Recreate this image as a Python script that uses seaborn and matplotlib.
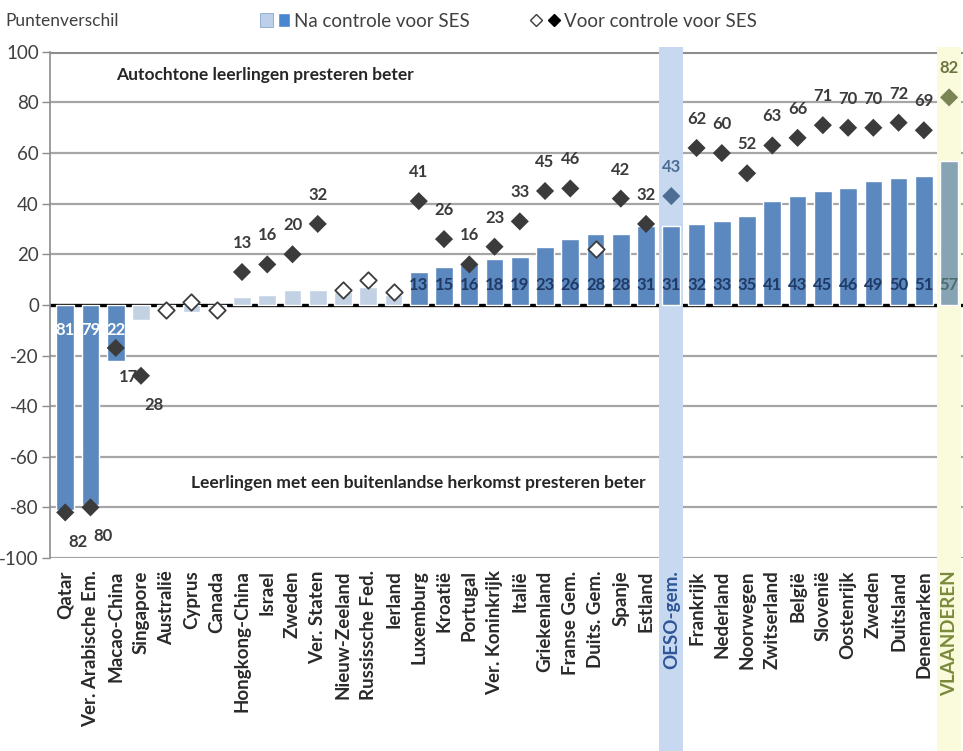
import numpy as np
import pandas as pd
import matplotlib
matplotlib.use("Agg")
import matplotlib.pyplot as plt
import matplotlib.transforms as mtransforms
from matplotlib.patches import Rectangle, Patch
from matplotlib.lines import Line2D
from matplotlib.legend_handler import HandlerTuple
import seaborn as sns

# ---------------------------------------------------------------
# Data
# ---------------------------------------------------------------
countries = ["Qatar", "Ver. Arabische Em.", "Macao-China", "Singapore", "Australië",
             "Cyprus", "Canada", "Hongkong-China", "Israel", "Zweden", "Ver. Staten",
             "Nieuw-Zeeland", "Russissche Fed.", "Ierland", "Luxemburg", "Kroatië",
             "Portugal", "Ver. Koninkrijk", "Italië", "Griekenland", "Franse Gem.",
             "Duits. Gem.", "Spanje", "Estland", "OESO-gem.", "Frankrijk", "Nederland",
             "Noorwegen", "Zwitserland", "België", "Slovenië", "Oostenrijk", "Zweden",
             "Duitsland", "Denemarken", "VLAANDEREN"]

# after controlling for SES (bars)
na_ses = [-81, -79, -22, -6, -1, -3, -1, 3, 4, 6, 6, 5, 7, 4, 13, 15, 16, 18, 19, 23,
          26, 28, 28, 31, 31, 32, 33, 35, 41, 43, 45, 46, 49, 50, 51, 57]
na_sig = [1, 1, 1, 0, 0, 0, 0, 0, 0, 0, 0, 0, 0, 0, 1, 1, 1, 1, 1, 1,
          1, 1, 1, 1, 1, 1, 1, 1, 1, 1, 1, 1, 1, 1, 1, 1]

# before controlling for SES (diamonds)
voor_ses = [-82, -80, -17, -28, -2, 1, -2, 13, 16, 20, 32, 6, 10, 5, 41, 26, 16, 23, 33, 45,
            46, 22, 42, 32, 43, 62, 60, 52, 63, 66, 71, 70, 70, 72, 69, 82]
voor_sig = [1, 1, 1, 1, 0, 0, 0, 1, 1, 1, 1, 0, 0, 0, 1, 1, 1, 1, 1, 1,
            1, 0, 1, 1, 1, 1, 1, 1, 1, 1, 1, 1, 1, 1, 1, 1]

yticks = [100, 80, 60, 40, 20, 0, -20, -40, -60, -80, -100]

OESO = countries.index("OESO-gem.")
VL = countries.index("VLAANDEREN")

BLUE = "#4a86cf"
LIGHT = "#bcd0ea"
VL_BAR = "#7ea7bb"
DARK = "#3b3b3b"
OESO_DIA = "#4d6d94"
VL_DIA = "#7a8455"
NAVY = "#1f3a66"

df = pd.DataFrame({"pos": np.arange(len(countries)), "land": countries,
                   "na": na_ses, "na_sig": na_sig, "voor": voor_ses, "voor_sig": voor_sig})
df["bar_kind"] = np.where(df["na_sig"] == 1, "sig", "nsig")
df.loc[VL, "bar_kind"] = "vl"
df["dia_kind"] = "sig"
df.loc[OESO, "dia_kind"] = "oeso"
df.loc[VL, "dia_kind"] = "vl"

# ---------------------------------------------------------------
# Figure
# ---------------------------------------------------------------
sns.set_style("white")
plt.rcParams["font.family"] = ["Lato", "DejaVu Sans"]

fig = plt.figure(figsize=(9.63, 7.51), dpi=100)
ax = fig.add_axes([0.052, 0.257, 0.948, 0.674])
ax.set_axisbelow(False)

# highlight bands (OESO and Vlaanderen), reaching down through the tick labels
trans = mtransforms.blended_transform_factory(ax.transData, fig.transFigure)
for idx, col in [(OESO, "#c6d9f0"), (VL, "#fafadc")]:
    ax.add_patch(Rectangle((idx - 0.48, 0.0), 0.96, 0.937, transform=trans,
                           facecolor=col, edgecolor="none", zorder=0.8, clip_on=False))

sns.barplot(data=df, x="pos", y="na", hue="bar_kind",
            palette={"sig": BLUE, "nsig": LIGHT, "vl": VL_BAR},
            dodge=False, width=0.7, errorbar=None, legend=False, ax=ax, zorder=1)

filled = df[df["voor_sig"] == 1]
sns.scatterplot(data=filled, x="pos", y="voor", hue="dia_kind",
                palette={"sig": DARK, "oeso": OESO_DIA, "vl": VL_DIA},
                marker="D", s=85, linewidth=0, legend=False, ax=ax, zorder=3)
opened = df[df["voor_sig"] == 0]
sns.scatterplot(data=opened, x="pos", y="voor", color="white", marker="D", s=70,
                edgecolor=DARK, linewidth=1.3, legend=False, ax=ax, zorder=3)

# bar value labels
for _, r in df[df["na_sig"] == 1].iterrows():
    if r["na"] < 0:
        ax.text(r["pos"], -10, f"{abs(r['na'])}", ha="center", va="center",
                color="white", fontsize=12, fontweight="bold", zorder=4)
    else:
        c = "#4b6e70" if r["pos"] == VL else NAVY
        ax.text(r["pos"], 8, f"{r['na']}", ha="center", va="center",
                color=c, fontsize=12, fontweight="bold", zorder=4)

# diamond value labels
for _, r in filled.iterrows():
    c = DARK
    if r["pos"] == OESO:
        c = OESO_DIA
    elif r["pos"] == VL:
        c = "#6d7540"
    if r["voor"] < 0:
        ax.text(r["pos"] + 0.5, r["voor"] - 11.5, f"{abs(r['voor'])}", ha="center",
                va="center", color=c, fontsize=12, fontweight="bold", zorder=4)
    else:
        ax.text(r["pos"], r["voor"] + 11.5, f"{r['voor']}", ha="center",
                va="center", color=c, fontsize=12, fontweight="bold", zorder=4)

ax.text(7.9, 91, "Autochtone leerlingen presteren beter", ha="center", va="center",
        fontsize=12.5, fontweight="bold", color="#262626")
ax.text(14.0, -70.5, "Leerlingen met een buitenlandse herkomst presteren beter",
        ha="center", va="center", fontsize=12.5, fontweight="bold", color="#262626")

# axes styling
ax.set_xlim(-0.6, len(countries) - 0.45)
ax.set_ylim(-100, 100)
ax.set_yticks(yticks)
ax.set_yticklabels([str(t) for t in yticks], fontsize=13.5, color="#404040")
for t in yticks:
    if t == 0:
        ax.axhline(0, color="black", lw=2.4, zorder=0.7)
    else:
        ax.axhline(t, color="#a6a6a6", lw=1.6, zorder=0.5)
ax.axhline(100, color="#8c8c8c", lw=2.2, zorder=0.5)
ax.set_xticks(df["pos"])
ax.set_xticklabels(countries, rotation=90, fontsize=13.5, fontweight="bold", color="#2a2a2a")
ax.get_xticklabels()[OESO].set_color("#2f5597")
ax.get_xticklabels()[VL].set_color("#7a8a3a")
ax.tick_params(axis="x", length=0, pad=9)
ax.tick_params(axis="y", length=6, width=1, color="#8c8c8c", left=True, pad=2)
ax.set_xlabel("")
ax.set_ylabel("")
for s in ["top", "right", "bottom"]:
    ax.spines[s].set_visible(False)
ax.spines["left"].set_color("#8c8c8c")
ax.spines["left"].set_linewidth(1.2)

# header: unit label and legend
fig.text(0.006, 0.972, "Puntenverschil", fontsize=12.5, color="#404040", va="center")
h_bars = (Patch(facecolor=LIGHT, edgecolor="#8aa6cc", lw=0.6), Patch(facecolor=BLUE))
h_dia = (Line2D([], [], marker="D", ls="none", markersize=6, markerfacecolor="white",
                markeredgecolor=DARK, markeredgewidth=1),
         Line2D([], [], marker="D", ls="none", markersize=6, color="black"))
fig.legend([h_bars, h_dia], ["Na controle voor SES", "Voor controle voor SES"],
           handler_map={tuple: HandlerTuple(ndivide=None, pad=0.3)},
           loc="center", bbox_to_anchor=(0.528, 0.972), ncol=2, frameon=False,
           fontsize=13.5, handlelength=1.6, handletextpad=0.2, columnspacing=3.2,
           labelcolor="#404040")

fig.savefig("out.png", dpi=100)
